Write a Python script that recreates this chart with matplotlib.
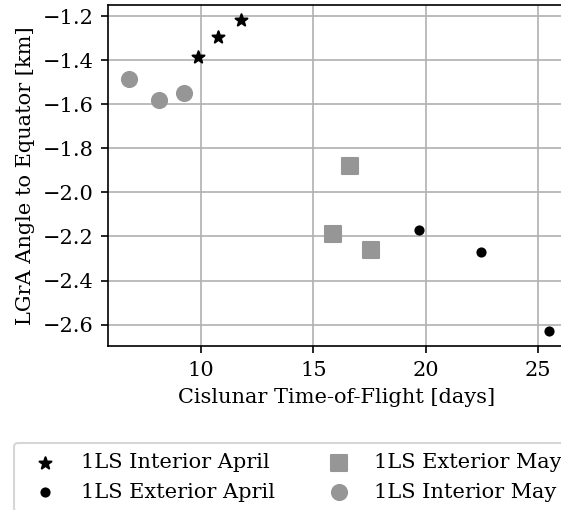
import matplotlib
matplotlib.use("Agg")
import matplotlib.pyplot as plt

plt.rcParams['font.family'] = ['DejaVu Serif']
plt.rcParams['mathtext.fontset'] = 'dejavuserif'

int_apr_x = [9.85, 10.77, 11.77]
int_apr_y = [-1.386, -1.294, -1.218]
ext_apr_x = [19.69, 22.45, 25.49]
ext_apr_y = [-2.173, -2.271, -2.629]
ext_may_x = [16.63, 15.87, 17.55]
ext_may_y = [-1.880, -2.188, -2.260]
int_may_x = [6.81, 8.14, 9.26]
int_may_y = [-1.486, -1.583, -1.549]

DPI = 150
W, H = 561, 510
fig = plt.figure(figsize=(W / DPI, H / DPI), dpi=DPI)
x0, x1 = 5.885, 26.2
y0, y1 = -2.697, -1.15
left, top, bottom = 108.5, 5, 346
width = (x1 - x0) * 22.48
ax = fig.add_axes([left / W, 1 - bottom / H, width / W, (bottom - top) / H])
ax.set_xlim(x0, x1)
ax.set_ylim(y0, y1)
ax.grid(True)
ax.set_axisbelow(True)

grey = '#969696'
ax.scatter(int_apr_x, int_apr_y, marker='*', s=36, color='black', label='1LS Interior April', zorder=3)
ax.scatter(ext_apr_x, ext_apr_y, marker='o', s=15, color='black', label='1LS Exterior April', zorder=3)
ax.scatter(ext_may_x, ext_may_y, marker='s', s=52, color=grey, label='1LS Exterior May', zorder=3)
ax.scatter(int_may_x, int_may_y, marker='o', s=52, color=grey, label='1LS Interior May', zorder=3)

ax.set_xticks([10, 15, 20, 25])
ax.set_yticks([-2.6, -2.4, -2.2, -2.0, -1.8, -1.6, -1.4, -1.2])
ax.set_xlabel('Cislunar Time-of-Flight [days]')
ax.set_ylabel('LGrA Angle to Equator [km]')

handles, labels = ax.get_legend_handles_labels()
fig.legend(handles, labels, ncol=2, loc='upper left',
           bbox_to_anchor=(14 / W, 1 - 443 / H), borderaxespad=0,
           handletextpad=0.72, columnspacing=2.05, borderpad=0.5)

fig.savefig('out.png', dpi=DPI)
